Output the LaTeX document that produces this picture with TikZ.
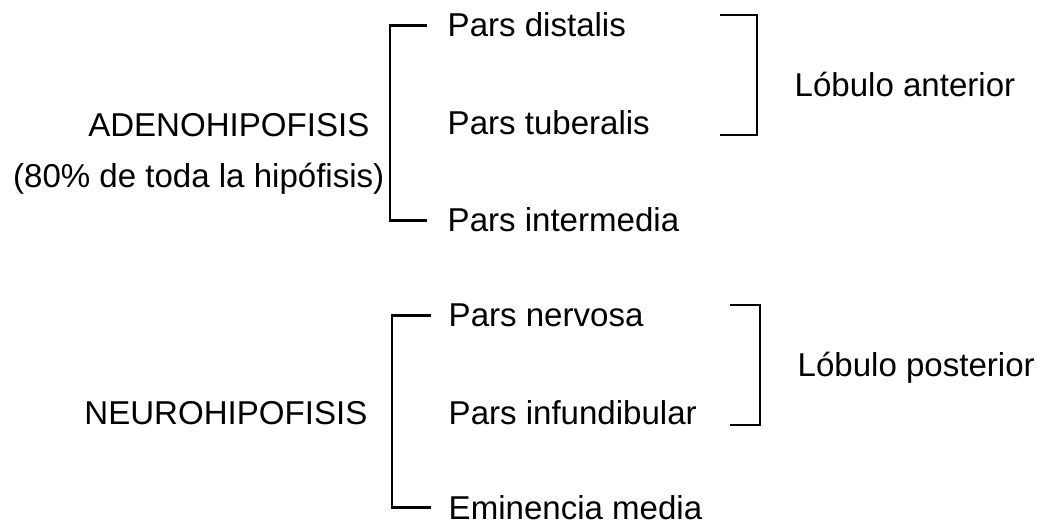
\documentclass[tikz,border=0pt]{standalone}
\usepackage{fontspec}
\setmainfont{Liberation Sans}
\usepackage{tikz}
\usetikzlibrary{positioning,calc}
\newcommand{\labfont}{\fontsize{9.4pt}{11pt}\selectfont}
\tikzset{
  part/.style={anchor=base west, inner sep=0pt, font=\labfont},
  gland/.style={anchor=base east, inner sep=0pt, font=\labfont},
  lobe/.style={anchor=base west, inner sep=0pt, font=\labfont},
  brk/.style={line width=0.8pt}
}
\begin{document}
\begin{tikzpicture}[x=0.01cm, y=-0.01cm]
  \useasboundingbox (0,0) rectangle (1040,525);
  % adenohipofisis
  \node[gland] (adeno) at (370,137) {ADENOHIPOFISIS};
  \node[gland] (adnote) at (385,188) {(80\% de toda la hipófisis)};
  \node[part] (dist) at (447,37) {Pars distalis};
  \node[part] (tuber) at (447,135) {Pars tuberalis};
  \node[part] (inter) at (447,232) {Pars intermedia};
  \node[lobe] (ant) at (794,97) {Lóbulo anterior};
  \draw[brk] ($(dist.west)+(-20,0)$) -- ++(-37,0) |- ($(inter.west)+(-20,0)$);
  \coordinate (antTop) at (720,15);
  \coordinate (antBot) at (720,135);
  \draw[brk] (antTop) -- ++(37,0) |- (antBot);
  % neurohipofisis
  \node[gland] (neuro) at (368,425) {NEUROHIPOFISIS};
  \node[part] (nerv) at (448,327) {Pars nervosa};
  \node[part] (infund) at (448,425) {Pars infundibular};
  \node[part] (emin) at (448,519) {Eminencia media};
  \node[lobe] (post) at (797,377) {Lóbulo posterior};
  \draw[brk] ($(nerv.west)+(-17,0)$) -- ++(-39,0) |- ($(emin.west)+(-17,0)$);
  \coordinate (postTop) at (730,305);
  \coordinate (postBot) at (730,425);
  \draw[brk] (postTop) -- ++(30,0) |- (postBot);
\end{tikzpicture}
\end{document}
